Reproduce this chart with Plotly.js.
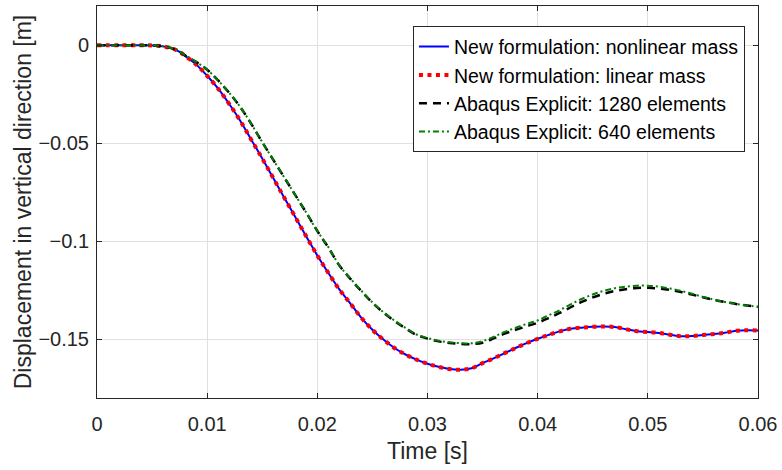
<!DOCTYPE html>
<html>
<head>
<meta charset="utf-8">
<script src="https://cdn.plot.ly/plotly-3.0.1.min.js"></script>
<style>html,body{margin:0;padding:0;background:#fff;}#chart{width:782px;height:470px;}</style>
</head>
<body>
<div id="chart"></div>
<script>
// Time [s]
var timeNew = [0, 0.002, 0.004, 0.005, 0.006, 0.007, 0.0075, 0.008, 0.009, 0.010, 0.011, 0.012, 0.013, 0.014, 0.015, 0.016, 0.017, 0.018, 0.019, 0.020, 0.021, 0.022, 0.023, 0.024, 0.025, 0.026, 0.027, 0.028, 0.029, 0.030, 0.031, 0.032, 0.033, 0.034, 0.035, 0.036, 0.037, 0.038, 0.039, 0.040, 0.041, 0.042, 0.043, 0.044, 0.045, 0.046, 0.047, 0.048, 0.049, 0.050, 0.051, 0.052, 0.053, 0.054, 0.055, 0.056, 0.057, 0.058, 0.059, 0.060];
// New formulation: nonlinear mass [m]
var dispNonlinear = [0, 0, 0, -0.0001, -0.0006, -0.0020, -0.0034, -0.0055, -0.0098, -0.0156, -0.0222, -0.0300, -0.0385, -0.0482, -0.0578, -0.0678, -0.0778, -0.0877, -0.0976, -0.1073, -0.1162, -0.1246, -0.1318, -0.1391, -0.1452, -0.1502, -0.1545, -0.1578, -0.1604, -0.1625, -0.1641, -0.1652, -0.1656, -0.1648, -0.1622, -0.1598, -0.1571, -0.1545, -0.1520, -0.1498, -0.1478, -0.1460, -0.1447, -0.1441, -0.1437, -0.1435, -0.1438, -0.1449, -0.1459, -0.1463, -0.1468, -0.1477, -0.1485, -0.1484, -0.1478, -0.1474, -0.1467, -0.1457, -0.1454, -0.1456];
// New formulation: linear mass [m]
var dispLinear = [0, 0, 0, -0.0001, -0.0006, -0.0020, -0.0034, -0.0055, -0.0098, -0.0156, -0.0222, -0.0300, -0.0385, -0.0482, -0.0578, -0.0678, -0.0778, -0.0877, -0.0976, -0.1073, -0.1162, -0.1246, -0.1318, -0.1391, -0.1452, -0.1502, -0.1545, -0.1578, -0.1604, -0.1625, -0.1641, -0.1652, -0.1656, -0.1648, -0.1622, -0.1598, -0.1571, -0.1545, -0.1520, -0.1498, -0.1478, -0.1460, -0.1447, -0.1441, -0.1437, -0.1435, -0.1438, -0.1449, -0.1459, -0.1463, -0.1468, -0.1477, -0.1485, -0.1484, -0.1478, -0.1474, -0.1467, -0.1457, -0.1454, -0.1456];
// Abaqus Explicit: 1280 elements [m]
var dispAbaqus1280 = [0, 0, 0, -0.0001, -0.0006, -0.0019, -0.0032, -0.0052, -0.0085, -0.0125, -0.0180, -0.0243, -0.0315, -0.0401, -0.0495, -0.0585, -0.0675, -0.0765, -0.0855, -0.0948, -0.1032, -0.1124, -0.1192, -0.1255, -0.1314, -0.1364, -0.1407, -0.1444, -0.1478, -0.1497, -0.1511, -0.1519, -0.1524, -0.1525, -0.1518, -0.1496, -0.1472, -0.1452, -0.1434, -0.1416, -0.1392, -0.1366, -0.1337, -0.1310, -0.1287, -0.1268, -0.1254, -0.1245, -0.1239, -0.1238, -0.1241, -0.1248, -0.1259, -0.1272, -0.1286, -0.1299, -0.1310, -0.1320, -0.1328, -0.1335];
// Abaqus Explicit: 640 elements [m]
var dispAbaqus640 = [0, 0, 0, -0.0001, -0.0006, -0.0019, -0.0032, -0.0052, -0.0085, -0.0125, -0.0180, -0.0243, -0.0315, -0.0401, -0.0495, -0.0585, -0.0675, -0.0765, -0.0855, -0.0948, -0.1030, -0.1124, -0.1190, -0.1253, -0.1312, -0.1362, -0.1405, -0.1442, -0.1476, -0.1494, -0.1508, -0.1516, -0.1520, -0.1521, -0.1510, -0.1488, -0.1463, -0.1442, -0.1422, -0.1404, -0.1378, -0.1352, -0.1322, -0.1295, -0.1272, -0.1253, -0.1240, -0.1232, -0.1227, -0.1227, -0.1232, -0.1241, -0.1253, -0.1268, -0.1284, -0.1298, -0.1310, -0.1320, -0.1328, -0.1335];

var seriesNames = ["New formulation: nonlinear mass", "New formulation: linear mass", "Abaqus Explicit: 1280 elements", "Abaqus Explicit: 640 elements"];
var xTickVals = [0, 0.01, 0.02, 0.03, 0.04, 0.05, 0.06];
var xTickText = ["0", "0.01", "0.02", "0.03", "0.04", "0.05", "0.06"];
var yTickVals = [0, -0.05, -0.1, -0.15];
var yTickText = ["0", "\u22120.05", "\u22120.1", "\u22120.15"];

var FONT = "Liberation Sans, Arial, Helvetica, sans-serif";

var traces = [
  {x: timeNew, y: dispNonlinear, name: seriesNames[0], mode: "lines",
   line: {color: "#0000ff", width: 2, shape: "spline"}},
  {x: timeNew, y: dispLinear, name: seriesNames[1], mode: "lines",
   line: {color: "#ff0000", width: 4, dash: "4px,4.5px", shape: "spline"}},
  {x: timeNew, y: dispAbaqus1280, name: seriesNames[2], mode: "lines",
   line: {color: "#000000", width: 2.5, dash: "8px,6px", shape: "spline"}},
  {x: timeNew, y: dispAbaqus640, name: seriesNames[3], mode: "lines",
   line: {color: "#007f00", width: 2, dash: "6px,3px,2px,3px", shape: "spline"}}
];

var axisCommon = {
  showline: true, linecolor: "#262626", linewidth: 1, mirror: "ticks",
  ticks: "inside", ticklen: 5, tickwidth: 1, tickcolor: "#262626",
  showgrid: true, gridcolor: "#e0e0e0", gridwidth: 1, zeroline: false,
  tickfont: {family: FONT, size: 20, color: "#262626"}
};

var layout = {
  width: 782, height: 470,
  margin: {l: 97, r: 24, t: 6, b: 72},
  paper_bgcolor: "#ffffff", plot_bgcolor: "#ffffff",
  showlegend: true,
  xaxis: Object.assign({}, axisCommon, {
    range: [0, 0.06], tickvals: xTickVals, ticktext: xTickText,
    ticklabelstandoff: 8,
    title: {text: "Time [s]", font: {family: FONT, size: 23, color: "#262626"}, standoff: 8}
  }),
  yaxis: Object.assign({}, axisCommon, {
    range: [-0.18, 0.02], tickvals: yTickVals, ticktext: yTickText,
    ticklabelstandoff: 3,
    title: {text: "Displacement in vertical direction [m]", font: {family: FONT, size: 23, color: "#262626"}, standoff: 0}
  }),
  legend: {
    x: 0.478, y: 0.948, xanchor: "left", yanchor: "top",
    bgcolor: "#ffffff", bordercolor: "#262626", borderwidth: 1,
    font: {family: FONT, size: 19.5, color: "#000000"},
    tracegroupgap: 0
  }
};

Plotly.newPlot("chart", traces, layout, {displayModeBar: false, staticPlot: true});
</script>
</body>
</html>
